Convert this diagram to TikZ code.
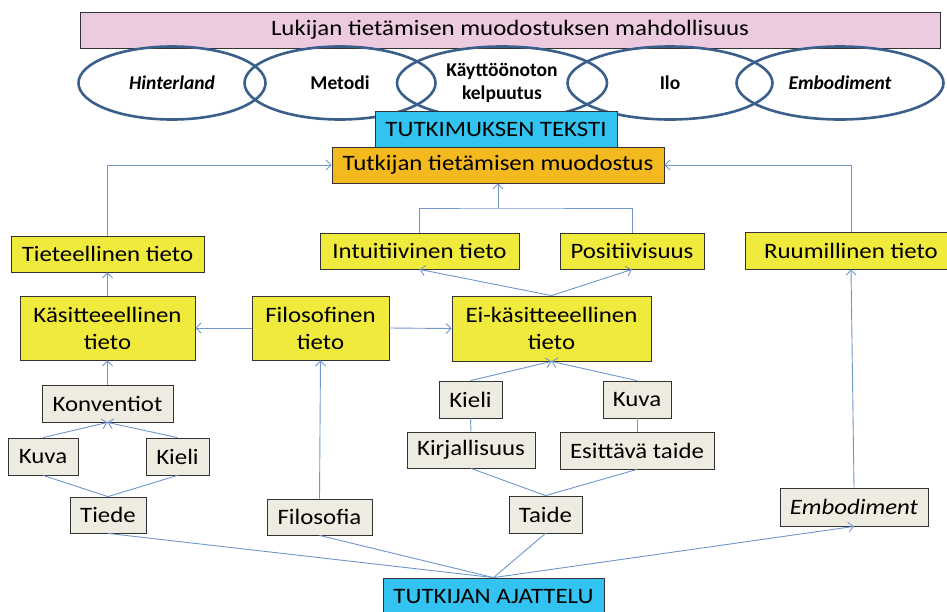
\documentclass[tikz,border=0pt]{standalone}
\usepackage{fontspec}
\setmainfont{Carlito}[FakeStretch=1.13]
\newfontfamily\ringfont{Carlito}
\usepackage{tikz}
\usetikzlibrary{arrows.meta,shapes.geometric}

\definecolor{linkblue}{RGB}{111,150,204}
\definecolor{ringblue}{RGB}{58,95,138}
\definecolor{boxyellow}{RGB}{240,234,60}
\definecolor{boxpale}{RGB}{238,236,225}
\definecolor{boxcyan}{RGB}{51,195,240}
\definecolor{boxorange}{RGB}{245,185,32}
\definecolor{boxpink}{RGB}{236,203,224}

\tikzset{
  conn/.style={draw=linkblue, line width=0.9pt},
  basebox/.style={draw=black!80, line width=0.8pt, inner sep=0pt, align=center,
    font=\fontsize{22}{27}\selectfont},
  yelbox/.style={basebox, fill=boxyellow},
  palebox/.style={basebox, fill=boxpale},
  ring/.style={ellipse, draw=ringblue, line width=2.6pt, inner sep=0pt, align=center,
    minimum height=73pt, font=\ringfont\bfseries\fontsize{19.5}{23}\selectfont}
}

\begin{document}
\begin{tikzpicture}[x=1pt,y=-1pt,>={Straight Barb[length=5pt,width=10pt]}]
	\useasboundingbox (0,0) rectangle (947,611);
	
	% reader level
	\node[basebox, fill=boxpink, minimum width=860pt, minimum height=36pt] (lukija) at (510,30) {Lukijan tietämisen muodostuksen mahdollisuus};
	\node[ring, minimum width=187pt] (hinter) at (172,83) {\itshape Hinterland};
	\node[ring, minimum width=191pt] (metodi) at (340,83) {Metodi};
	\node[ring, minimum width=210pt] (kelpo) at (502,83) {Käyttöönoton\\kelpuutus};
	\node[ring, minimum width=205pt] (ilo) at (670,83) {Ilo};
	\node[ring, minimum width=207pt] (embodi) at (840,83) {\itshape Embodiment};
	
	\node[basebox, fill=boxcyan, minimum width=242pt, minimum height=37pt] (teksti) at (496,129.5) {TUTKIMUKSEN TEKSTI};
	\node[basebox, fill=boxorange, minimum width=332pt, minimum height=36pt] (muodostus) at (498,165) {Tutkijan tietämisen muodostus};
	
	% kinds of knowing
	\node[yelbox, minimum width=193pt, minimum height=36pt] (tieteel) at (107.5,254) {Tieteellinen tieto};
	\node[yelbox, minimum width=199pt, minimum height=36pt] (intuit) at (419.5,251) {Intuitiivinen tieto};
	\node[yelbox, minimum width=144pt, minimum height=36pt] (posit) at (632,251) {Positiivisuus};
	\node[yelbox, minimum width=212pt, minimum height=37pt] (ruumil) at (851,250.5) {Ruumillinen tieto};
	\node[yelbox, minimum width=175pt, minimum height=64pt] (kasit) at (107.5,328) {Käsitteeellinen\\tieto};
	\node[yelbox, minimum width=137pt, minimum height=64pt] (filtieto) at (320.5,328) {Filosofinen\\tieto};
	\node[yelbox, minimum width=199pt, minimum height=65pt] (eikasit) at (551.5,328.5) {Ei-käsitteeellinen\\tieto};
	
	% sources
	\node[palebox, minimum width=131pt, minimum height=37pt] (konv) at (107.5,403.5) {Konventiot};
	\node[palebox, minimum width=70pt, minimum height=37pt] (kuvaA) at (43,456.5) {Kuva};
	\node[palebox, minimum width=63pt, minimum height=37pt] (kieliA) at (177.5,456.5) {Kieli};
	\node[palebox, minimum width=76pt, minimum height=36pt] (tiede) at (108,515) {Tiede};
	\node[palebox, minimum width=105pt, minimum height=36pt] (filo) at (319.5,517) {Filosofia};
	\node[palebox, minimum width=63pt, minimum height=37pt] (kieliB) at (470.5,399.5) {Kieli};
	\node[palebox, minimum width=68pt, minimum height=37pt] (kuvaB) at (637,399.5) {Kuva};
	\node[palebox, minimum width=128pt, minimum height=36pt] (kirj) at (471,450) {Kirjallisuus};
	\node[palebox, minimum width=154pt, minimum height=37pt] (esit) at (637,450.5) {Esittävä taide};
	\node[palebox, minimum width=73pt, minimum height=37pt] (taide) at (545.5,514.5) {Taide};
	\node[palebox, minimum width=148pt, minimum height=38pt] (embB) at (854,507) {\itshape Embodiment};
	
	\node[basebox, fill=boxcyan, minimum width=221pt, minimum height=37pt] (ajattelu) at (493.5,596.5) {TUTKIJAN AJATTELU};
	
	% connectors
	\coordinate (liitos) at (498,208);
	\draw[conn,->] (tieteel.north) |- (muodostus.west);
	\draw[conn,->] (ruumil.north) |- (muodostus.east);
	\draw[conn] (intuit.north) |- (liitos) -| (posit.north);
	\draw[conn,->] (liitos) -- (muodostus.south);
	
	\draw[conn,->] (kasit.north) -- (tieteel.south);
	\draw[conn,->] (filtieto.west) -- (kasit.east);
	\draw[conn,->] (filtieto.east) -- (eikasit.west);
	\draw[conn,->] (eikasit.north) -- (intuit.south);
	\draw[conn,->] (eikasit.north) -- (posit.south);
	
	\draw[conn,->] (konv.north) -- (kasit.south);
	\draw[conn,->] (kuvaA.north) -- (konv.south);
	\draw[conn,->] (kieliA.north) -- (konv.south);
	\draw[conn] (tiede.north) -- (kuvaA.south);
	\draw[conn] (tiede.north) -- (kieliA.south);
	
	\draw[conn,->] (filo.north) -- (filtieto.south);
	
	\draw[conn,->] (kieliB.north) -- (eikasit.south);
	\draw[conn,->] (kuvaB.north) -- (eikasit.south);
	\draw[conn] (kieliB.south) -- (kirj.north);
	\draw[conn] (kuvaB.south) -- (esit.north);
	\draw[conn] (taide.north) -- (kirj.south);
	\draw[conn] (taide.north) -- (esit.south);
	
	\draw[conn] (ajattelu.north) -- (tiede.south);
	\draw[conn] (ajattelu.north) -- (filo.south);
	\draw[conn] (ajattelu.north) -- (taide.south);
	\draw[conn,->] (ajattelu.north) -- (embB.south);
	\draw[conn,->] (embB.north) -- (ruumil.south);
\end{tikzpicture}
\end{document}
